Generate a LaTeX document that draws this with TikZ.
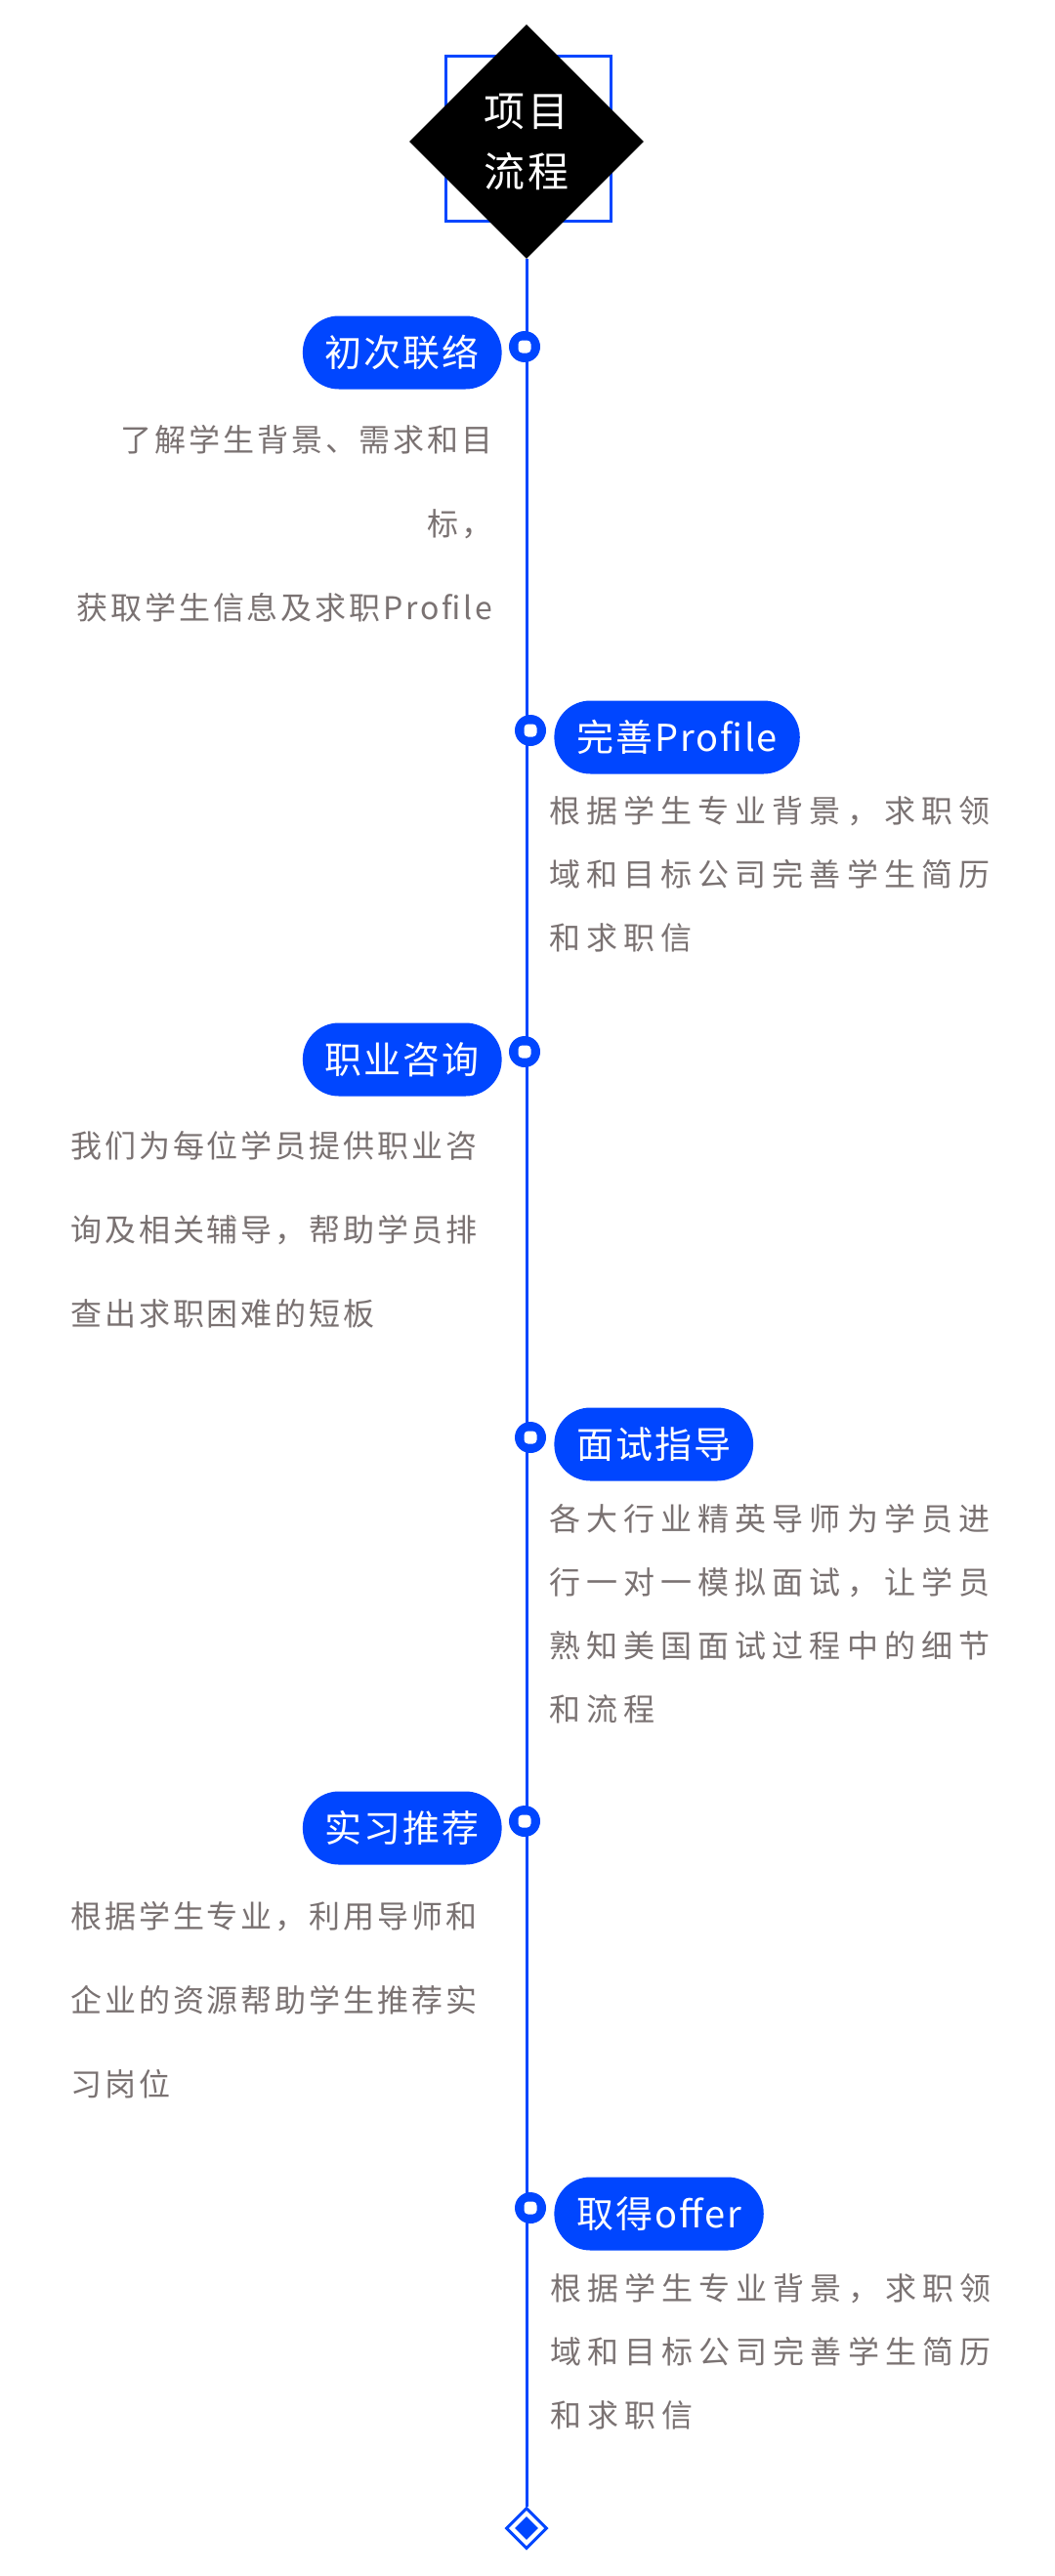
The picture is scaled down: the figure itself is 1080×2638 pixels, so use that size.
\documentclass[tikz,border=0pt]{standalone}
\usepackage{fontspec}
\usepackage{tikz}
\usetikzlibrary{shapes.geometric,calc,backgrounds}
\newfontfamily\cjkpill[LetterSpace=5]{Noto Sans CJK SC}
\newfontfamily\cjknarrow[LetterSpace=9]{Noto Sans CJK SC}
\newfontfamily\cjkwide[LetterSpace=19]{Noto Sans CJK SC}
\newfontfamily\cjktitle[LetterSpace=7]{Noto Sans CJK SC}
\definecolor{stepblue}{RGB}{0,70,255}
\definecolor{notegray}{RGB}{122,114,114}

\tikzset{
  pill/.style={rectangle, rounded corners=18.5pt, fill=stepblue, text=white,
    minimum height=37.5pt, inner xsep=11.5pt, inner ysep=0pt,
    font={\cjkpill\fontsize{19pt}{19pt}\selectfont}},
  dot/.style={circle, fill=stepblue, minimum size=16pt, inner sep=0pt,
    path picture={\fill[white, rounded corners=2pt]
      ($(path picture bounding box.center)+(-3.25pt,-3.25pt)$) rectangle ++(6.5pt,6.5pt);}},
  noteleft/.style={text=notegray, inner sep=0pt, text width=230pt,
    font={\cjknarrow\fontsize{16pt}{43pt}\selectfont}},
  noteright/.style={text=notegray, inner sep=0pt, text width=240pt, align=left,
    font={\cjkwide\fontsize{16pt}{32.5pt}\selectfont}},
}

\begin{document}
\begin{tikzpicture}[x=0.5pt,y=-0.5pt]
  \useasboundingbox (0,0) rectangle (1080,2638);

  % title
  \node[draw=stepblue, line width=1.5pt, minimum size=84.5pt, inner sep=0pt] (frame) at (541,142) {};
  \node[diamond, fill=black, text=white, minimum width=120pt, minimum height=120pt, inner sep=0pt,
    align=center, font={\cjktitle\fontsize{21pt}{31pt}\selectfont}] (title) at (539,145) {项目\\流程};

  % end mark
  \node[diamond, draw=stepblue, fill=white, line width=1.5pt, minimum size=21pt, inner sep=0pt] (finish) at (539,2589) {};
  \node[diamond, fill=stepblue, minimum size=12pt, inner sep=0pt] (finishcore) at (finish.center) {};

  % steps
  \node[dot] (d1) at (537,355) {};
  \node[pill, anchor=east] (contact) at (514,361) {初次联络};
  \node[noteleft, align=right, anchor=base east] (contactnote) at (505,462)
    {了解学生背景、需求和目\\标，\\获取学生信息及求职Profile};

  \node[dot] (d2) at (543,748) {};
  \node[pill, anchor=west] (profile) at (567,755) {完善Profile};
  \node[noteright, anchor=base west] (profilenote) at (562,842)
    {根据学生专业背景，求职领\\域和目标公司完善学生简历\\和求职信};

  \node[dot] (d3) at (537,1077) {};
  \node[pill, anchor=east] (consult) at (514,1085) {职业咨询};
  \node[noteleft, align=left, anchor=base west] (consultnote) at (72,1185)
    {我们为每位学员提供职业咨\\询及相关辅导，帮助学员排\\查出求职困难的短板};

  \node[dot] (d4) at (543,1472) {};
  \node[pill, anchor=west] (interview) at (567,1479) {面试指导};
  \node[noteright, anchor=base west] (interviewnote) at (562,1567)
    {各大行业精英导师为学员进\\行一对一模拟面试，让学员\\熟知美国面试过程中的细节\\和流程};

  \node[dot] (d5) at (537,1865) {};
  \node[pill, anchor=east] (intern) at (514,1872) {实习推荐};
  \node[noteleft, align=left, anchor=base west] (internnote) at (72,1974)
    {根据学生专业，利用导师和\\企业的资源帮助学生推荐实\\习岗位};

  \node[dot] (d6) at (543,2261) {};
  \node[pill, anchor=west] (offer) at (567,2267) {取得offer};
  \node[noteright, anchor=base west] (offernote) at (563,2355)
    {根据学生专业背景，求职领\\域和目标公司完善学生简历\\和求职信};

  \begin{scope}[on background layer]
    \fill[white] (0,0) rectangle (1080,2638);
    \draw[stepblue, line width=1.5pt] (title.south) -- (finish.north);
  \end{scope}
\end{tikzpicture}
\end{document}
